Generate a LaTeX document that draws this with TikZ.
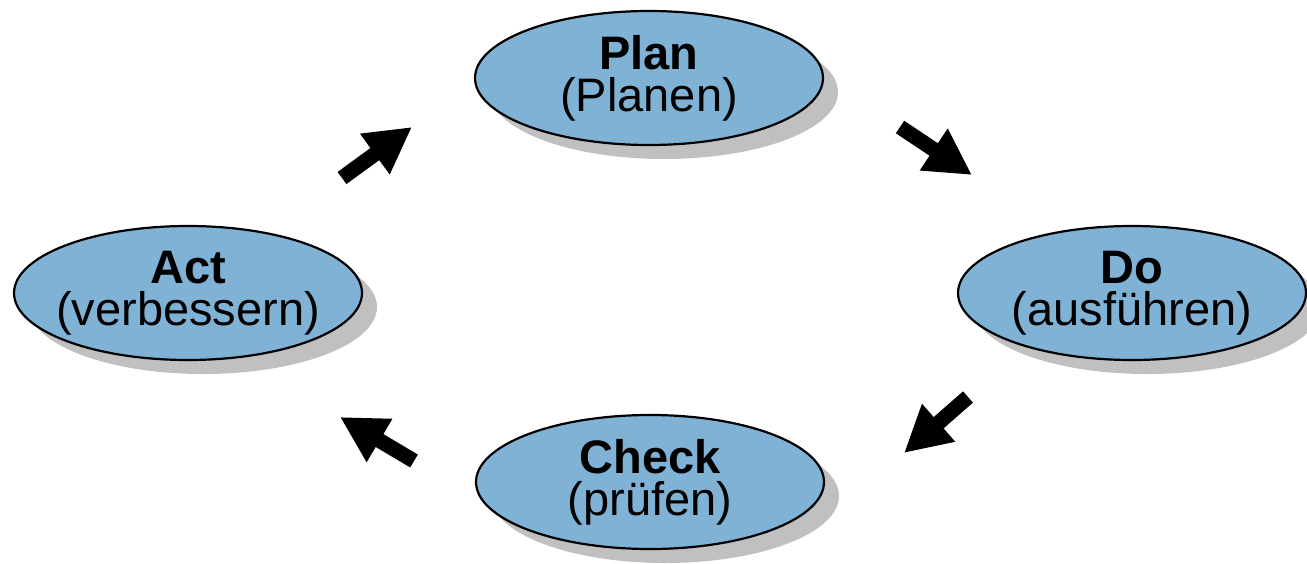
\documentclass[tikz,border=0pt]{standalone}
\usepackage{fontspec}
\setmainfont{Liberation Sans}
\usetikzlibrary{arrows.meta,shapes.geometric,shadows}
\definecolor{pdcafill}{RGB}{128,178,214}
\definecolor{pdcashadow}{RGB}{192,192,192}
\begin{document}
\begin{tikzpicture}[x=1pt,y=-1pt,
  phase/.style={ellipse, draw=black, line width=2.2pt, fill=pdcafill,
    minimum width=348pt, minimum height=134pt, inner xsep=-14pt, inner ysep=0pt,
    align=center, font=\fontsize{47}{42}\selectfont,
    drop shadow={shadow xshift=15pt, shadow yshift=-14pt, fill=pdcashadow, opacity=1}},
  flow/.style={line width=15pt, -{Triangle[width=47pt,length=46pt]}}]
\useasboundingbox (0,0) rectangle (1307,563);
\node[phase] (plan) at (649,78) {\textbf{Plan}\\(Planen)};
\node[phase] (do) at (1132,293) {\textbf{Do}\\(ausführen)};
\node[phase] (check) at (650,482) {\textbf{Check}\\(prüfen)};
\node[phase] (act) at (188,293) {\textbf{Act}\\(verbessern)};
\coordinate (a1s) at (342,178); \coordinate (a1e) at (412,127);
\coordinate (a2s) at (900,127); \coordinate (a2e) at (972,175);
\coordinate (a3s) at (968,397); \coordinate (a3e) at (904,453);
\coordinate (a4s) at (414,461); \coordinate (a4e) at (340,417);
\draw[flow] (a1s) -- (a1e);
\draw[flow] (a2s) -- (a2e);
\draw[flow] (a3s) -- (a3e);
\draw[flow] (a4s) -- (a4e);
\end{tikzpicture}
\end{document}
